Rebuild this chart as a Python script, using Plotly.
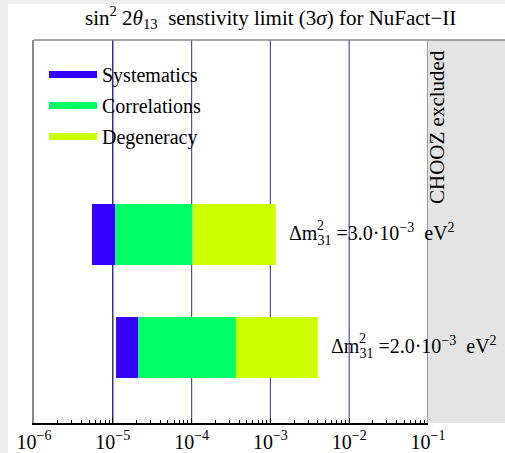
import plotly.graph_objects as go

# ---- data ----
scenarios = ["2.0e-3", "3.0e-3"]          # Δm²31 values (bottom, top)
ypos = [1, 2]
sys_start = [1.10e-5, 5.44e-6]
corr_start = [2.09e-5, 1.07e-5]
deg_start = [3.65e-4, 1.03e-4]
deg_end = [3.98e-3, 1.17e-3]
series_names = ["Systematics", "Correlations", "Degeneracy"]
series_colors = ["#3300ff", "#00ff66", "#ccff00"]
tick_vals = [1e-6, 1e-5, 1e-4, 1e-3, 1e-2, 1e-1]
tick_text = ["10<sup>−6</sup>", "10<sup>−5</sup>", "10<sup>−4</sup>",
             "10<sup>−3</sup>", "10<sup>−2</sup>", "10<sup>−1</sup>"]
grid_vals = [1e-4, 1e-3, 1e-2, 1e-1]

FONT = "Liberation Serif"

starts = [sys_start, corr_start, deg_start]
ends = [corr_start, deg_start, deg_end]

fig = go.Figure()
for name, col, s, e in zip(series_names, series_colors, starts, ends):
    fig.add_trace(go.Bar(
        y=ypos, x=[b - a for a, b in zip(s, e)], base=s,
        orientation="h", marker=dict(color=col, line=dict(width=0)),
        width=0.54, showlegend=False, hoverinfo="skip"))
for name, col in zip(series_names, series_colors):
    fig.add_trace(go.Scatter(
        x=[None], y=[None], mode="lines", name=name, legendgroup=name,
        line=dict(color=col, width=7)))

W, H = 505, 453
L, R, T, B = 34, 77, 40, 30
pw = W - L - R
ph = H - T - B
def px(xp):
    return (xp - L) / pw
def py(yp):
    return (H - B - yp) / ph

shapes = []
# white panel
shapes.append(dict(type="rect", xref="paper", yref="paper", x0=px(8), x1=px(W + 5),
                   y0=py(H + 5), y1=py(4), fillcolor="white", line=dict(width=0), layer="below"))
# CHOOZ excluded region
shapes.append(dict(type="rect", xref="paper", yref="paper", x0=1, x1=px(W + 5),
                   y0=0, y1=1, fillcolor="#e4e4e4", line=dict(width=0), layer="below"))
# top frame line
shapes.append(dict(type="line", xref="paper", yref="paper", x0=0, x1=px(W + 5),
                   y0=1, y1=1, line=dict(color="#888888", width=1.5)))
# vertical reference lines
shapes.append(dict(type="line", xref="x", yref="paper", x0=1e-5, x1=1e-5, y0=0, y1=1,
                   line=dict(color="#000066", width=1.2), layer="between"))
for g in grid_vals:
    shapes.append(dict(type="line", xref="x", yref="paper", x0=g, x1=g, y0=0, y1=1,
                       line=dict(color="#5050b0", width=1.2), layer="between"))

annotations = [
    dict(text="sin<sup>2</sup> 2<i>θ</i><sub>13</sub>  senstivity limit (3<i>σ</i>) for NuFact−II",
         xref="paper", yref="paper", x=px(270), y=py(18), showarrow=False,
         font=dict(family=FONT, size=21, color="black"), xanchor="center", yanchor="middle"),
    dict(text="CHOOZ excluded", xref="paper", yref="paper", x=px(437), y=py(127),
         textangle=-90, showarrow=False, font=dict(family=FONT, size=21, color="black"),
         xanchor="center", yanchor="middle"),
]
labels = ["=2.0·10<sup>−3</sup>  eV<sup>2</sup>", "=3.0·10<sup>−3</sup>  eV<sup>2</sup>"]
lab_x = [329, 287]
for yv, lt, lx in zip(ypos, labels, lab_x):
    annotations.append(dict(text="Δm<sub>31</sub> " + lt, xref="paper", yref="y",
                            x=px(lx), y=yv, showarrow=False, xanchor="left", yanchor="middle",
                            font=dict(family=FONT, size=20, color="black")))
    annotations.append(dict(text="2", xref="paper", yref="y", x=px(lx), y=yv,
                            xshift=28, yshift=9, showarrow=False, xanchor="left",
                            yanchor="middle", font=dict(family=FONT, size=14, color="black")))

fig.update_layout(
    width=W, height=H, autosize=False,
    margin=dict(l=L, r=R, t=T, b=B, pad=0),
    paper_bgcolor="#eeeeee", plot_bgcolor="white",
    barmode="overlay",
    shapes=shapes, annotations=annotations,
    legend=dict(x=px(44), y=py(55), xanchor="left", yanchor="top",
                bgcolor="rgba(0,0,0,0)", font=dict(family=FONT, size=20, color="black"),
                tracegroupgap=2, itemwidth=48),
    xaxis=dict(type="log", range=[-6, -1], tickmode="array", tickvals=tick_vals,
               ticktext=tick_text, automargin=False, ticklabelstandoff=0,
               showline=True, linecolor="black", linewidth=1.5,
               ticks="inside", ticklen=5, tickcolor="black",
               minor=dict(ticks="inside", ticklen=3, tickcolor="black", showgrid=False,
                          dtick="D1"),
               showgrid=False, zeroline=False,
               tickfont=dict(family=FONT, size=20, color="black")),
    yaxis=dict(range=[0.332, 3.72], showticklabels=False, ticks="", showgrid=False,
               zeroline=False, showline=True, linecolor="#888888", linewidth=1.5,
               automargin=False),
)

fig.write_html("out.html")
